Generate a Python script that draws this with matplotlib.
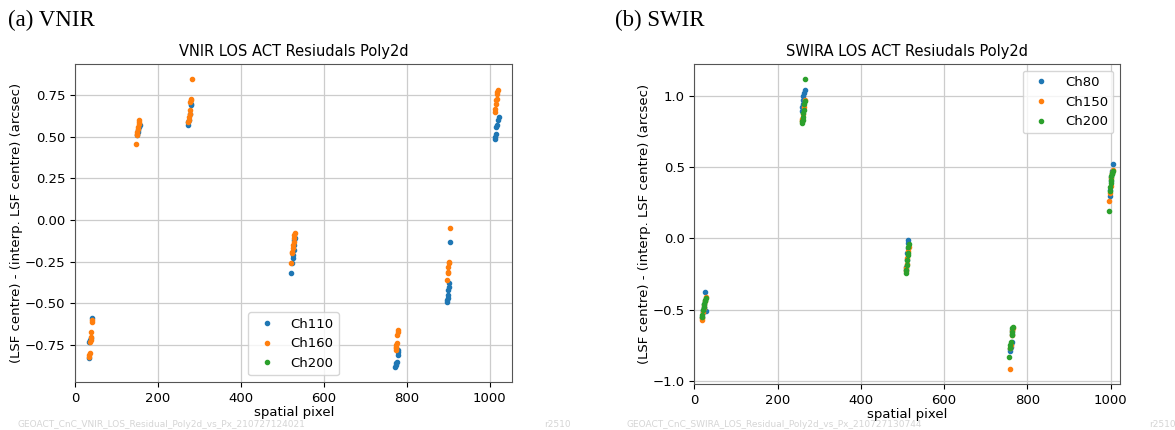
import matplotlib
matplotlib.use("Agg")
import matplotlib.pyplot as plt
from matplotlib.ticker import MultipleLocator

# VNIR residuals (spatial pixel, arcsec)
vnir_ch110_x = [33, 34, 36, 38, 40,
                149, 151, 152, 154, 156,
                272, 273, 275, 277, 279, 280,
                522, 524, 525, 526, 527, 528, 529, 530,
                773, 774, 775, 776, 778, 779, 780,
                897, 898, 899, 900, 901, 902, 903, 905,
                1013, 1014, 1015, 1016, 1018, 1020, 1022]
vnir_ch110_y = [-0.83, -0.73, -0.72, -0.71, -0.59,
                0.51, 0.53, 0.54, 0.56, 0.57,
                0.57, 0.59, 0.60, 0.64, 0.69, 0.70,
                -0.32, -0.26, -0.23, -0.21, -0.18, -0.15, -0.12, -0.11,
                -0.88, -0.87, -0.86, -0.85, -0.81, -0.79, -0.78,
                -0.49, -0.48, -0.47, -0.45, -0.42, -0.40, -0.38, -0.13,
                0.49, 0.50, 0.52, 0.56, 0.57, 0.60, 0.62]
vnir_ch160_x = [34, 34, 35, 36, 37, 38, 37, 40, 40,
                147, 148, 149, 150, 151, 152, 153, 154, 155,
                273, 274, 275, 276, 277, 278, 279, 280, 281,
                522, 523, 524, 525, 526, 527, 528, 529, 530,
                774, 774, 775, 775, 776, 777, 779, 780,
                897, 899, 900, 901, 902, 903, 905,
                1013, 1014, 1015, 1016, 1017, 1018, 1019, 1020]
vnir_ch160_y = [-0.82, -0.81, -0.80, -0.73, -0.72, -0.70, -0.67, -0.61, -0.60,
                0.46, 0.51, 0.52, 0.53, 0.55, 0.56, 0.58, 0.59, 0.60,
                0.59, 0.60, 0.62, 0.64, 0.66, 0.71, 0.72, 0.73, 0.85,
                -0.26, -0.20, -0.19, -0.17, -0.15, -0.13, -0.11, -0.09, -0.08,
                -0.78, -0.77, -0.76, -0.75, -0.74, -0.69, -0.67, -0.66,
                -0.36, -0.32, -0.31, -0.28, -0.26, -0.25, -0.05,
                0.65, 0.67, 0.70, 0.72, 0.73, 0.76, 0.77, 0.78]
vnir_ch200_x = []
vnir_ch200_y = []

# SWIR residuals
swir_ch80_x = [18, 20, 21, 22, 24, 25, 28,
               258, 259, 260, 261, 262, 264, 265,
               508, 509, 510, 511, 512, 513, 514,
               758, 759, 760, 761, 762, 763, 764,
               998, 999, 1000, 1002, 1003, 1005]
swir_ch80_y = [-0.55, -0.52, -0.50, -0.48, -0.46, -0.38, -0.51,
               0.89, 0.92, 0.94, 0.97, 1.00, 1.02, 1.04,
               -0.22, -0.20, -0.15, -0.10, -0.07, -0.03, -0.01,
               -0.79, -0.78, -0.76, -0.74, -0.73, -0.67, -0.64,
               0.30, 0.34, 0.40, 0.43, 0.47, 0.52]
swir_ch150_x = [18, 19, 21, 22, 24, 26, 27,
                258, 259, 261, 263, 265,
                508, 509, 510, 511, 513, 515,
                758, 759, 760, 762, 764, 765,
                997, 998, 1000, 1002, 1004, 1005]
swir_ch150_y = [-0.57, -0.56, -0.52, -0.49, -0.47, -0.44, -0.41,
                0.82, 0.84, 0.87, 0.92, 0.97,
                -0.23, -0.21, -0.18, -0.14, -0.09, -0.06,
                -0.92, -0.77, -0.75, -0.68, -0.65, -0.63,
                0.26, 0.32, 0.37, 0.42, 0.46, 0.48]
swir_ch200_x = [18, 19, 20, 22, 23, 25, 26, 27,
                258, 259, 260, 261, 262, 263, 264, 265, 266,
                508, 509, 510, 511, 512, 513, 514, 515,
                757, 758, 759, 760, 762, 763, 764, 765,
                997, 998, 999, 1000, 1001, 1002, 1003, 1004, 1005]
swir_ch200_y = [-0.55, -0.54, -0.50, -0.48, -0.46, -0.44, -0.43, -0.42,
                0.81, 0.82, 0.83, 0.85, 0.88, 0.90, 0.94, 0.96, 1.12,
                -0.24, -0.22, -0.19, -0.15, -0.12, -0.10, -0.06, -0.04,
                -0.83, -0.77, -0.75, -0.73, -0.68, -0.66, -0.63, -0.62,
                0.19, 0.33, 0.36, 0.39, 0.41, 0.44, 0.45, 0.46, 0.47]

ylabel = "(LSF centre) - (interp. LSF centre) (arcsec)"
blue, orange, green = "#1f77b4", "#ff7f0e", "#2ca02c"

fig = plt.figure(figsize=(11.75, 4.3), dpi=100)

ax1 = fig.add_axes([0.064, 0.112, 0.372, 0.739])
ax1.plot(vnir_ch110_x, vnir_ch110_y, '.', color=blue, label='Ch110')
ax1.plot(vnir_ch160_x, vnir_ch160_y, '.', color=orange, label='Ch160')
ax1.plot(vnir_ch200_x, vnir_ch200_y, '.', color=green, label='Ch200')
ax1.set_xlim(0, 1055)
ax1.set_ylim(-0.971, 0.937)
ax1.set_title("VNIR LOS ACT Resiudals Poly2d", fontsize=10.5)
ax1.legend(loc='lower center', fontsize=9.5)

ax2 = fig.add_axes([0.591, 0.107, 0.362, 0.744])
ax2.plot(swir_ch80_x, swir_ch80_y, '.', color=blue, label='Ch80')
ax2.plot(swir_ch150_x, swir_ch150_y, '.', color=orange, label='Ch150')
ax2.plot(swir_ch200_x, swir_ch200_y, '.', color=green, label='Ch200')
ax2.set_xlim(0, 1022)
ax2.yaxis.set_major_locator(MultipleLocator(0.5))
ax2.set_title("SWIRA LOS ACT Resiudals Poly2d", fontsize=10.5)
ax2.legend(loc='upper right', fontsize=9.5)

for ax in (ax1, ax2):
    ax.grid(True, color='#cccccc', linewidth=0.9)
    ax.set_axisbelow(True)
    ax.set_xlabel("spatial pixel", fontsize=9.5, labelpad=1)
    ax.set_ylabel(ylabel, fontsize=9.5, labelpad=1)
    ax.tick_params(labelsize=9.5)
    for s in ax.spines.values():
        s.set_color('#555555')

fig.text(0.007, 0.94, "(a) VNIR", family='Liberation Serif', fontsize=16.5)
fig.text(0.523, 0.94, "(b) SWIR", family='Liberation Serif', fontsize=16.5)

wm = dict(fontsize=6.5, color='#d5d5d5')
fig.text(0.015, 0.006, "GEOACT_CnC_VNIR_LOS_Residual_Poly2d_vs_Px_210727124021", **wm)
fig.text(0.463, 0.006, "r2510", **wm)
fig.text(0.533, 0.006, "GEOACT_CnC_SWIRA_LOS_Residual_Poly2d_vs_Px_210727130744", **wm)
fig.text(0.978, 0.006, "r2510", **wm)

fig.savefig("out.png", dpi=100)
